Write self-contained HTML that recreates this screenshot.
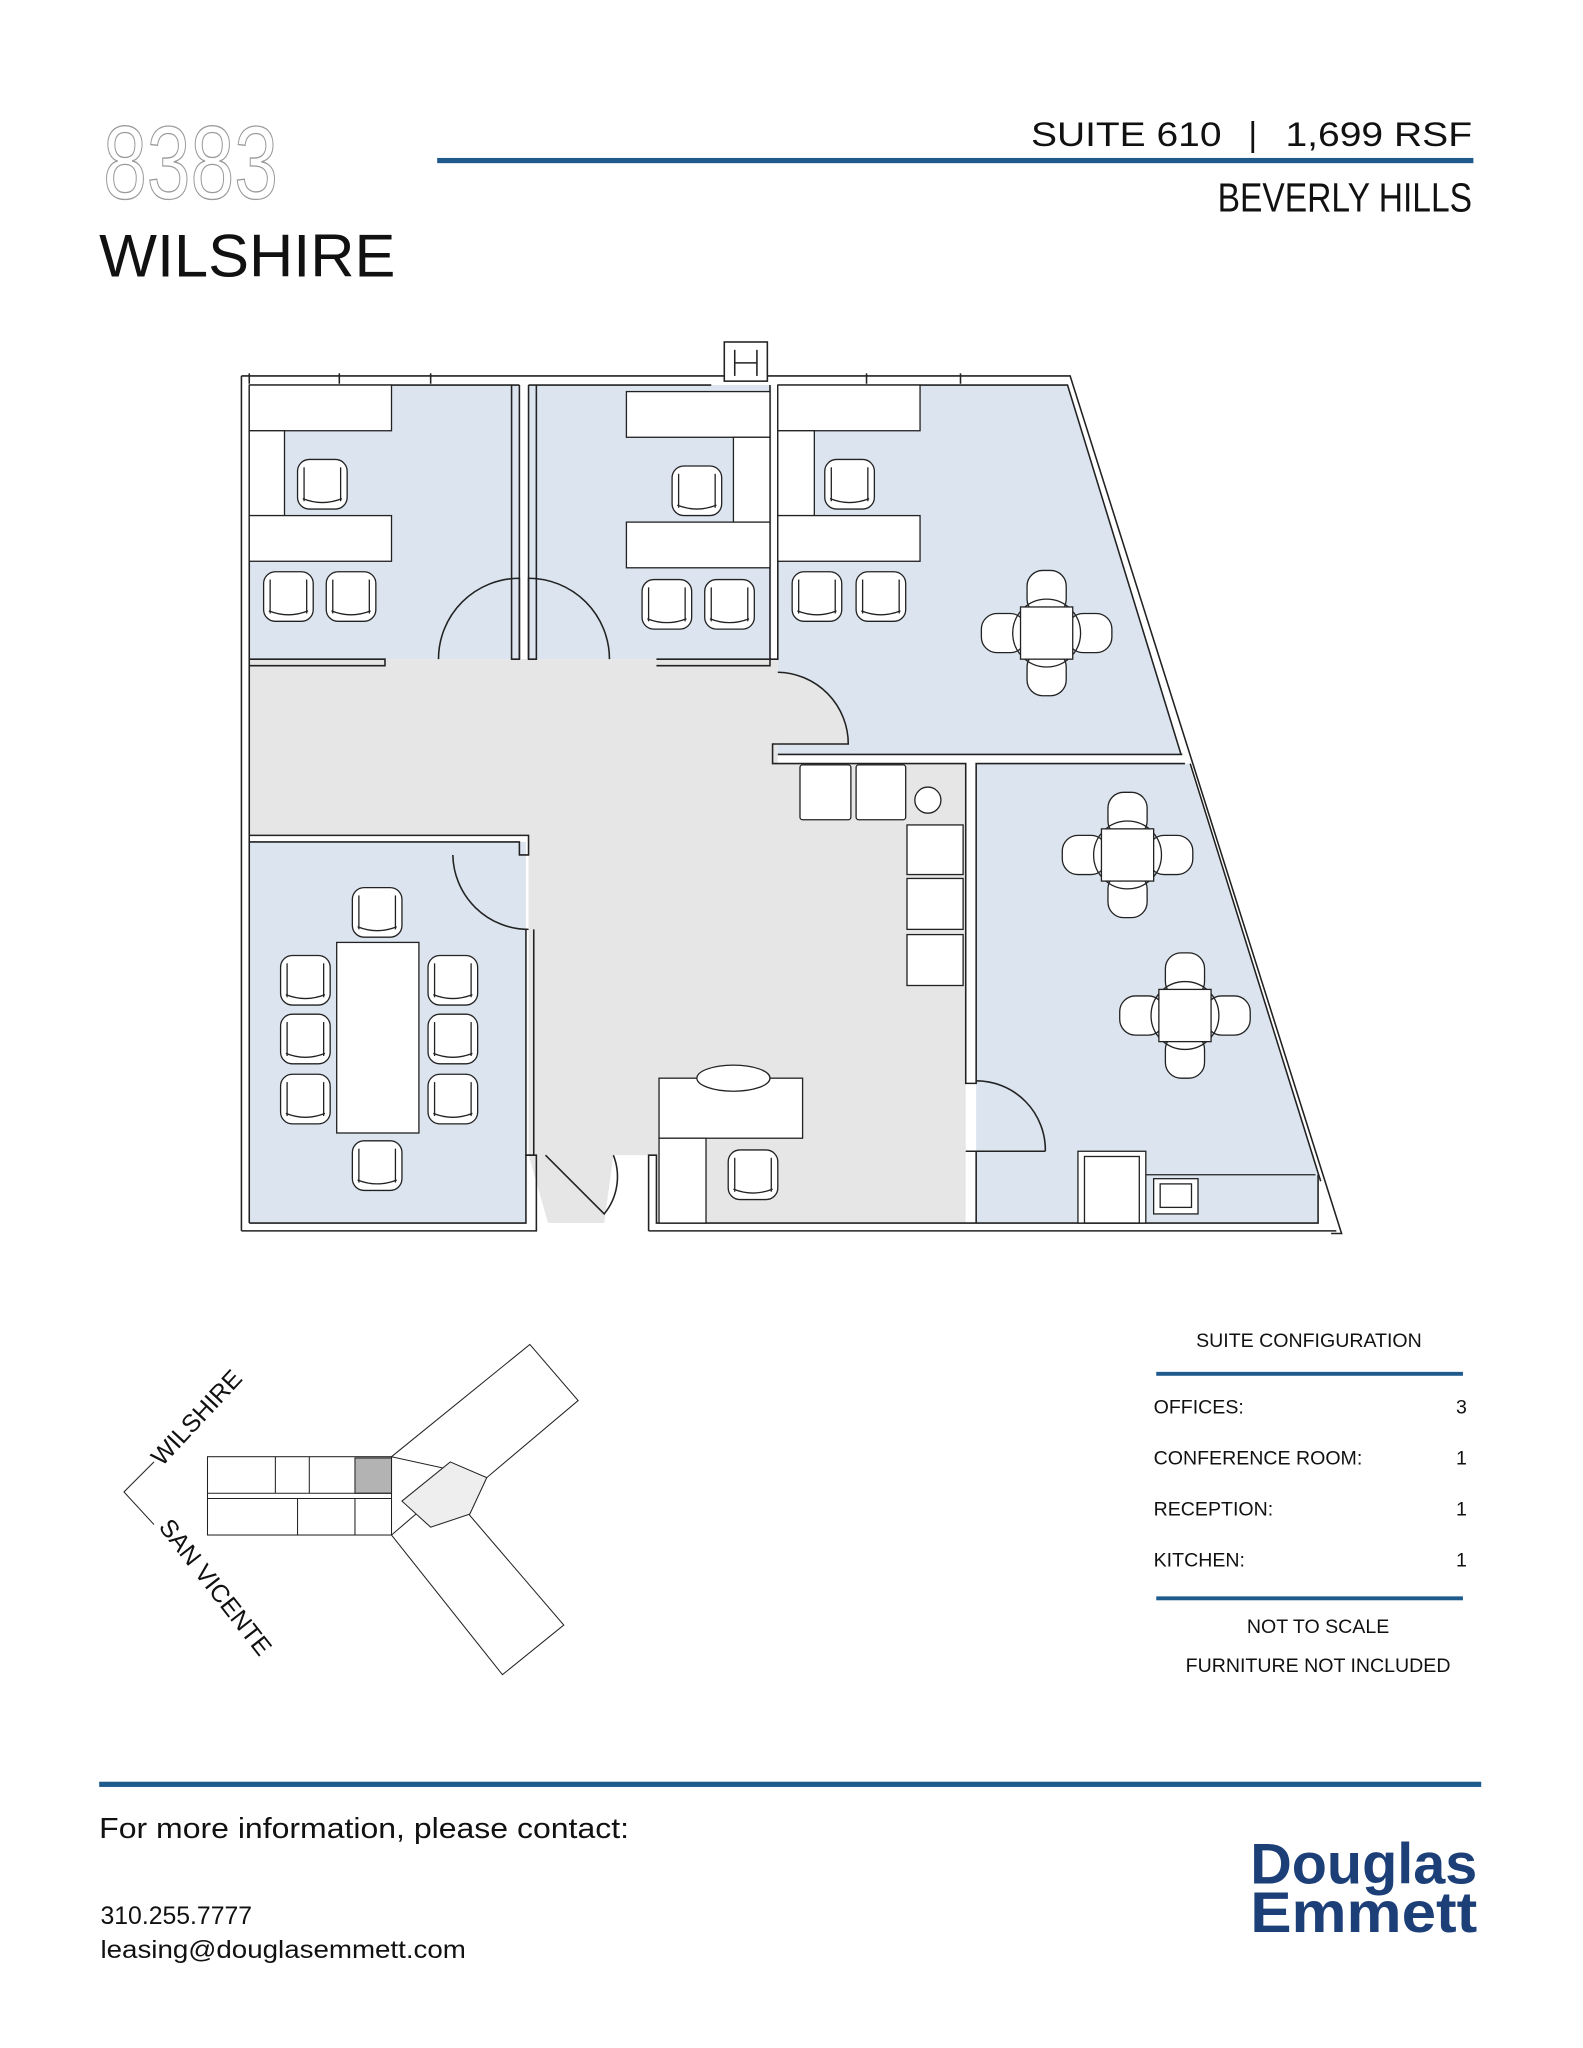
<!DOCTYPE html>
<html><head><meta charset="utf-8"><style>html,body{margin:0;padding:0;background:#fff}svg{display:block}</style></head>
<body>
<svg width="1583" height="2048" viewBox="0 0 1213 1569" preserveAspectRatio="none" xmlns="http://www.w3.org/2000/svg" font-family="Liberation Sans, sans-serif">
<defs>
<g id="ch"><rect x="0" y="0" width="38" height="38" rx="9"/><path d="M4,30 Q19,36 34,30" fill="none"/><line x1="5" y1="6" x2="5" y2="32"/><line x1="33" y1="6" x2="33" y2="32"/></g>
<g id="tb"><rect x="-15" y="-48" width="30" height="34" rx="12"/><rect x="-15" y="14" width="30" height="34" rx="12"/><rect x="-50" y="-15" width="34" height="30" rx="12"/><rect x="16" y="-15" width="34" height="30" rx="12"/><circle r="26" fill="none"/><rect x="-20" y="-20" width="40" height="40"/></g>
</defs>
<!-- header -->
<text x="79" y="152" font-size="80" fill="#fff" stroke="#9a9a9a" stroke-width="1" textLength="134" lengthAdjust="spacingAndGlyphs">8383</text>
<text x="76" y="212" font-size="46" fill="#111" textLength="227" lengthAdjust="spacingAndGlyphs">WILSHIRE</text>
<rect x="335" y="121" width="794" height="4" fill="#1f5a8c"/>
<text x="790" y="112" font-size="26" fill="#111" textLength="146" lengthAdjust="spacingAndGlyphs">SUITE 610</text>
<text x="960" y="112" font-size="26" fill="#111" text-anchor="middle">|</text>
<text x="1128" y="112" font-size="26" fill="#111" text-anchor="end" textLength="143" lengthAdjust="spacingAndGlyphs">1,699 RSF</text>
<text x="1128" y="162" font-size="31" fill="#111" text-anchor="end" textLength="195" lengthAdjust="spacingAndGlyphs">BEVERLY HILLS</text>

<!-- floor plan fills -->
<g stroke="none">
<polygon points="191,505 596,505 596,585 740,585 740,937 503,937 503,885 470,885 463,937 420,937 405,885 405,640 191,640" fill="#e6e6e6"/>
<rect x="191" y="295" width="207" height="210" fill="#dbe4ef"/>
<rect x="405" y="295" width="186" height="210" fill="#dbe4ef"/>
<polygon points="596,295 818,295 905,578 596,578" fill="#dbe4ef"/>
<rect x="191" y="645" width="212" height="292" fill="#dbe4ef"/>
<polygon points="748,585 911,585 1010,900 1010,937 748,937" fill="#dbe4ef"/>
<path d="M596,515 A55,55 0 0 1 650,570 L596,570Z" fill="#e6e6e6"/>
</g>
<g fill="none" stroke="#222" stroke-width="1.2">
<polyline points="185,288 820,288 1028,945 1020,945"/>
<polyline points="191,295 398,295"/><polyline points="405,295 545,295"/><polyline points="596,295 818,295 905,578"/>
<line x1="185" y1="288" x2="185" y2="943"/><line x1="191" y1="295" x2="191" y2="937"/>
<polyline points="185,943 411,943 411,885 403,885 403,937 191,937"/>
<polyline points="497,943 1024,943"/><polyline points="497,943 497,885 503,885 503,937 1010,937 1010,900"/>
<line x1="912" y1="585" x2="1012" y2="905"/>
<polyline points="398,295 398,505 392,505 392,295"/>
<polyline points="405,295 405,505 411,505 411,295"/>
<polyline points="590,295 590,505 596,505 596,295"/>
<polyline points="191,505 295,505 295,510 191,510"/>
<polyline points="503,505 590,505 590,510 503,510"/>
<polyline points="596,570 592,570 592,585 740,585 740,830 748,830 748,585 908,585"/>
<line x1="596" y1="578" x2="906" y2="578"/>
<polyline points="191,640 405,640 405,655 398,655 398,645 191,645"/>
<polyline points="403,712 403,885 409,885 409,712"/>
<polyline points="740,882 748,882 748,937"/>
<polyline points="801,882 748,882"/>
<line x1="191" y1="286" x2="191" y2="294"/><line x1="260" y1="286" x2="260" y2="294"/><line x1="330" y1="286" x2="330" y2="294"/><line x1="664" y1="286" x2="664" y2="294"/><line x1="736" y1="286" x2="736" y2="294"/>
<rect x="555" y="262" width="33" height="30" fill="#fff"/><line x1="563" y1="268" x2="563" y2="288"/><line x1="580" y1="268" x2="580" y2="288"/><line x1="563" y1="278" x2="580" y2="278"/>
<path d="M336,505 A62,62 0 0 1 398,443 L398,505"/>
<path d="M467,505 A62,62 0 0 0 405,443 L405,505"/>
<path d="M596,515 A55,55 0 0 1 650,570 L596,570"/>
<path d="M347,655 A58,58 0 0 0 405,712"/>
<path d="M748,828 A53,53 0 0 1 801,882"/>
<path d="M418,885 L463,930 A45,45 0 0 0 470,885"/>
</g>
<g fill="#fff" stroke="#222" stroke-width="1">
<rect x="191" y="295" width="109" height="35"/><rect x="191" y="330" width="27" height="65"/><rect x="191" y="395" width="109" height="35"/>
<rect x="480" y="300" width="110" height="35"/><rect x="562" y="335" width="28" height="65"/><rect x="480" y="400" width="110" height="35"/>
<rect x="596" y="295" width="109" height="35"/><rect x="596" y="330" width="28" height="65"/><rect x="596" y="395" width="109" height="35"/>
<use href="#ch" x="228" y="352"/><use href="#ch" x="202" y="438"/><use href="#ch" x="250" y="438"/>
<use href="#ch" x="515" y="357"/><use href="#ch" x="492" y="444"/><use href="#ch" x="540" y="444"/>
<use href="#ch" x="632" y="352"/><use href="#ch" x="607" y="438"/><use href="#ch" x="656" y="438"/>
<use href="#ch" x="270" y="680"/><use href="#ch" x="270" y="874"/>
<use href="#ch" x="215" y="732"/><use href="#ch" x="215" y="777"/><use href="#ch" x="215" y="823"/>
<use href="#ch" x="328" y="732"/><use href="#ch" x="328" y="777"/><use href="#ch" x="328" y="823"/>
<use href="#ch" x="558" y="881"/>
<rect x="258" y="722" width="63" height="146"/>
<use href="#tb" x="802" y="485"/><use href="#tb" x="864" y="655"/><use href="#tb" x="908" y="778"/>
<rect x="613" y="586" width="39" height="42" rx="2"/><rect x="656" y="586" width="38" height="42" rx="2"/>
<circle cx="711" cy="613" r="10"/>
<rect x="695" y="632" width="43" height="38"/><rect x="695" y="673" width="43" height="39"/><rect x="695" y="716" width="43" height="39"/>
<rect x="505" y="826" width="110" height="46"/><rect x="505" y="872" width="36" height="65"/>
<ellipse cx="562" cy="826" rx="28" ry="10"/>
<rect x="826" y="882" width="52" height="55"/><rect x="831" y="886" width="42" height="51" fill="none"/>
<line x1="878" y1="900" x2="1008" y2="900" fill="none"/>
<rect x="884" y="903" width="34" height="27"/><rect x="889" y="907" width="24" height="18"/>
</g>

<!-- location map -->
<g fill="#fff" stroke="#222" stroke-width="0.8">
<rect x="159" y="1116" width="141" height="60"/>
<rect x="272" y="1117" width="28" height="27" fill="#b3b3b3"/>
<line x1="159" y1="1144" x2="300" y2="1144"/><line x1="159" y1="1148" x2="300" y2="1148"/>
<line x1="211" y1="1116" x2="211" y2="1144"/><line x1="237" y1="1116" x2="237" y2="1144"/>
<line x1="228" y1="1148" x2="228" y2="1176"/><line x1="272" y1="1148" x2="272" y2="1176"/>
<polygon points="300,1116 406,1030 443,1073 373,1132"/>
<polygon points="300,1176 385,1283 432,1245 342,1140"/>
<polygon points="308,1150 345,1120 373,1132 360,1160 330,1170" fill="#eee"/>
<polyline points="118,1120 95,1143 118,1168" fill="none"/>
</g>
<text x="0" y="0" font-size="19" fill="#111" transform="translate(124,1124) rotate(-47)">WILSHIRE</text>
<text x="0" y="0" font-size="19" fill="#111" transform="translate(121,1170) rotate(52)">SAN VICENTE</text>

<g font-size="15" fill="#111">
<text x="1003" y="1032" text-anchor="middle">SUITE CONFIGURATION</text>
<rect x="886" y="1051" width="235" height="3" fill="#1f5a8c"/>
<text x="884" y="1083">OFFICES:</text><text x="1124" y="1083" text-anchor="end">3</text>
<text x="884" y="1122">CONFERENCE ROOM:</text><text x="1124" y="1122" text-anchor="end">1</text>
<text x="884" y="1161">RECEPTION:</text><text x="1124" y="1161" text-anchor="end">1</text>
<text x="884" y="1200">KITCHEN:</text><text x="1124" y="1200" text-anchor="end">1</text>
<rect x="886" y="1223" width="235" height="3" fill="#1f5a8c"/>
<text x="1010" y="1251" text-anchor="middle">NOT TO SCALE</text>
<text x="1010" y="1281" text-anchor="middle">FURNITURE NOT INCLUDED</text>
</g>

<rect x="76" y="1365" width="1059" height="4" fill="#1f5a8c"/>
<text x="76" y="1408" font-size="22" fill="#111" textLength="406" lengthAdjust="spacingAndGlyphs">For more information, please contact:</text>
<text x="77" y="1474" font-size="19" fill="#111">310.255.7777</text>
<text x="77" y="1500" font-size="19" fill="#111" textLength="280" lengthAdjust="spacingAndGlyphs">leasing@douglasemmett.com</text>
<text x="958" y="1443" font-size="44" font-weight="bold" fill="#1d3f78" textLength="174" lengthAdjust="spacingAndGlyphs">Douglas</text>
<text x="958" y="1480" font-size="44" font-weight="bold" fill="#1d3f78" textLength="174" lengthAdjust="spacingAndGlyphs">Emmett</text>
</svg>
</body></html>
